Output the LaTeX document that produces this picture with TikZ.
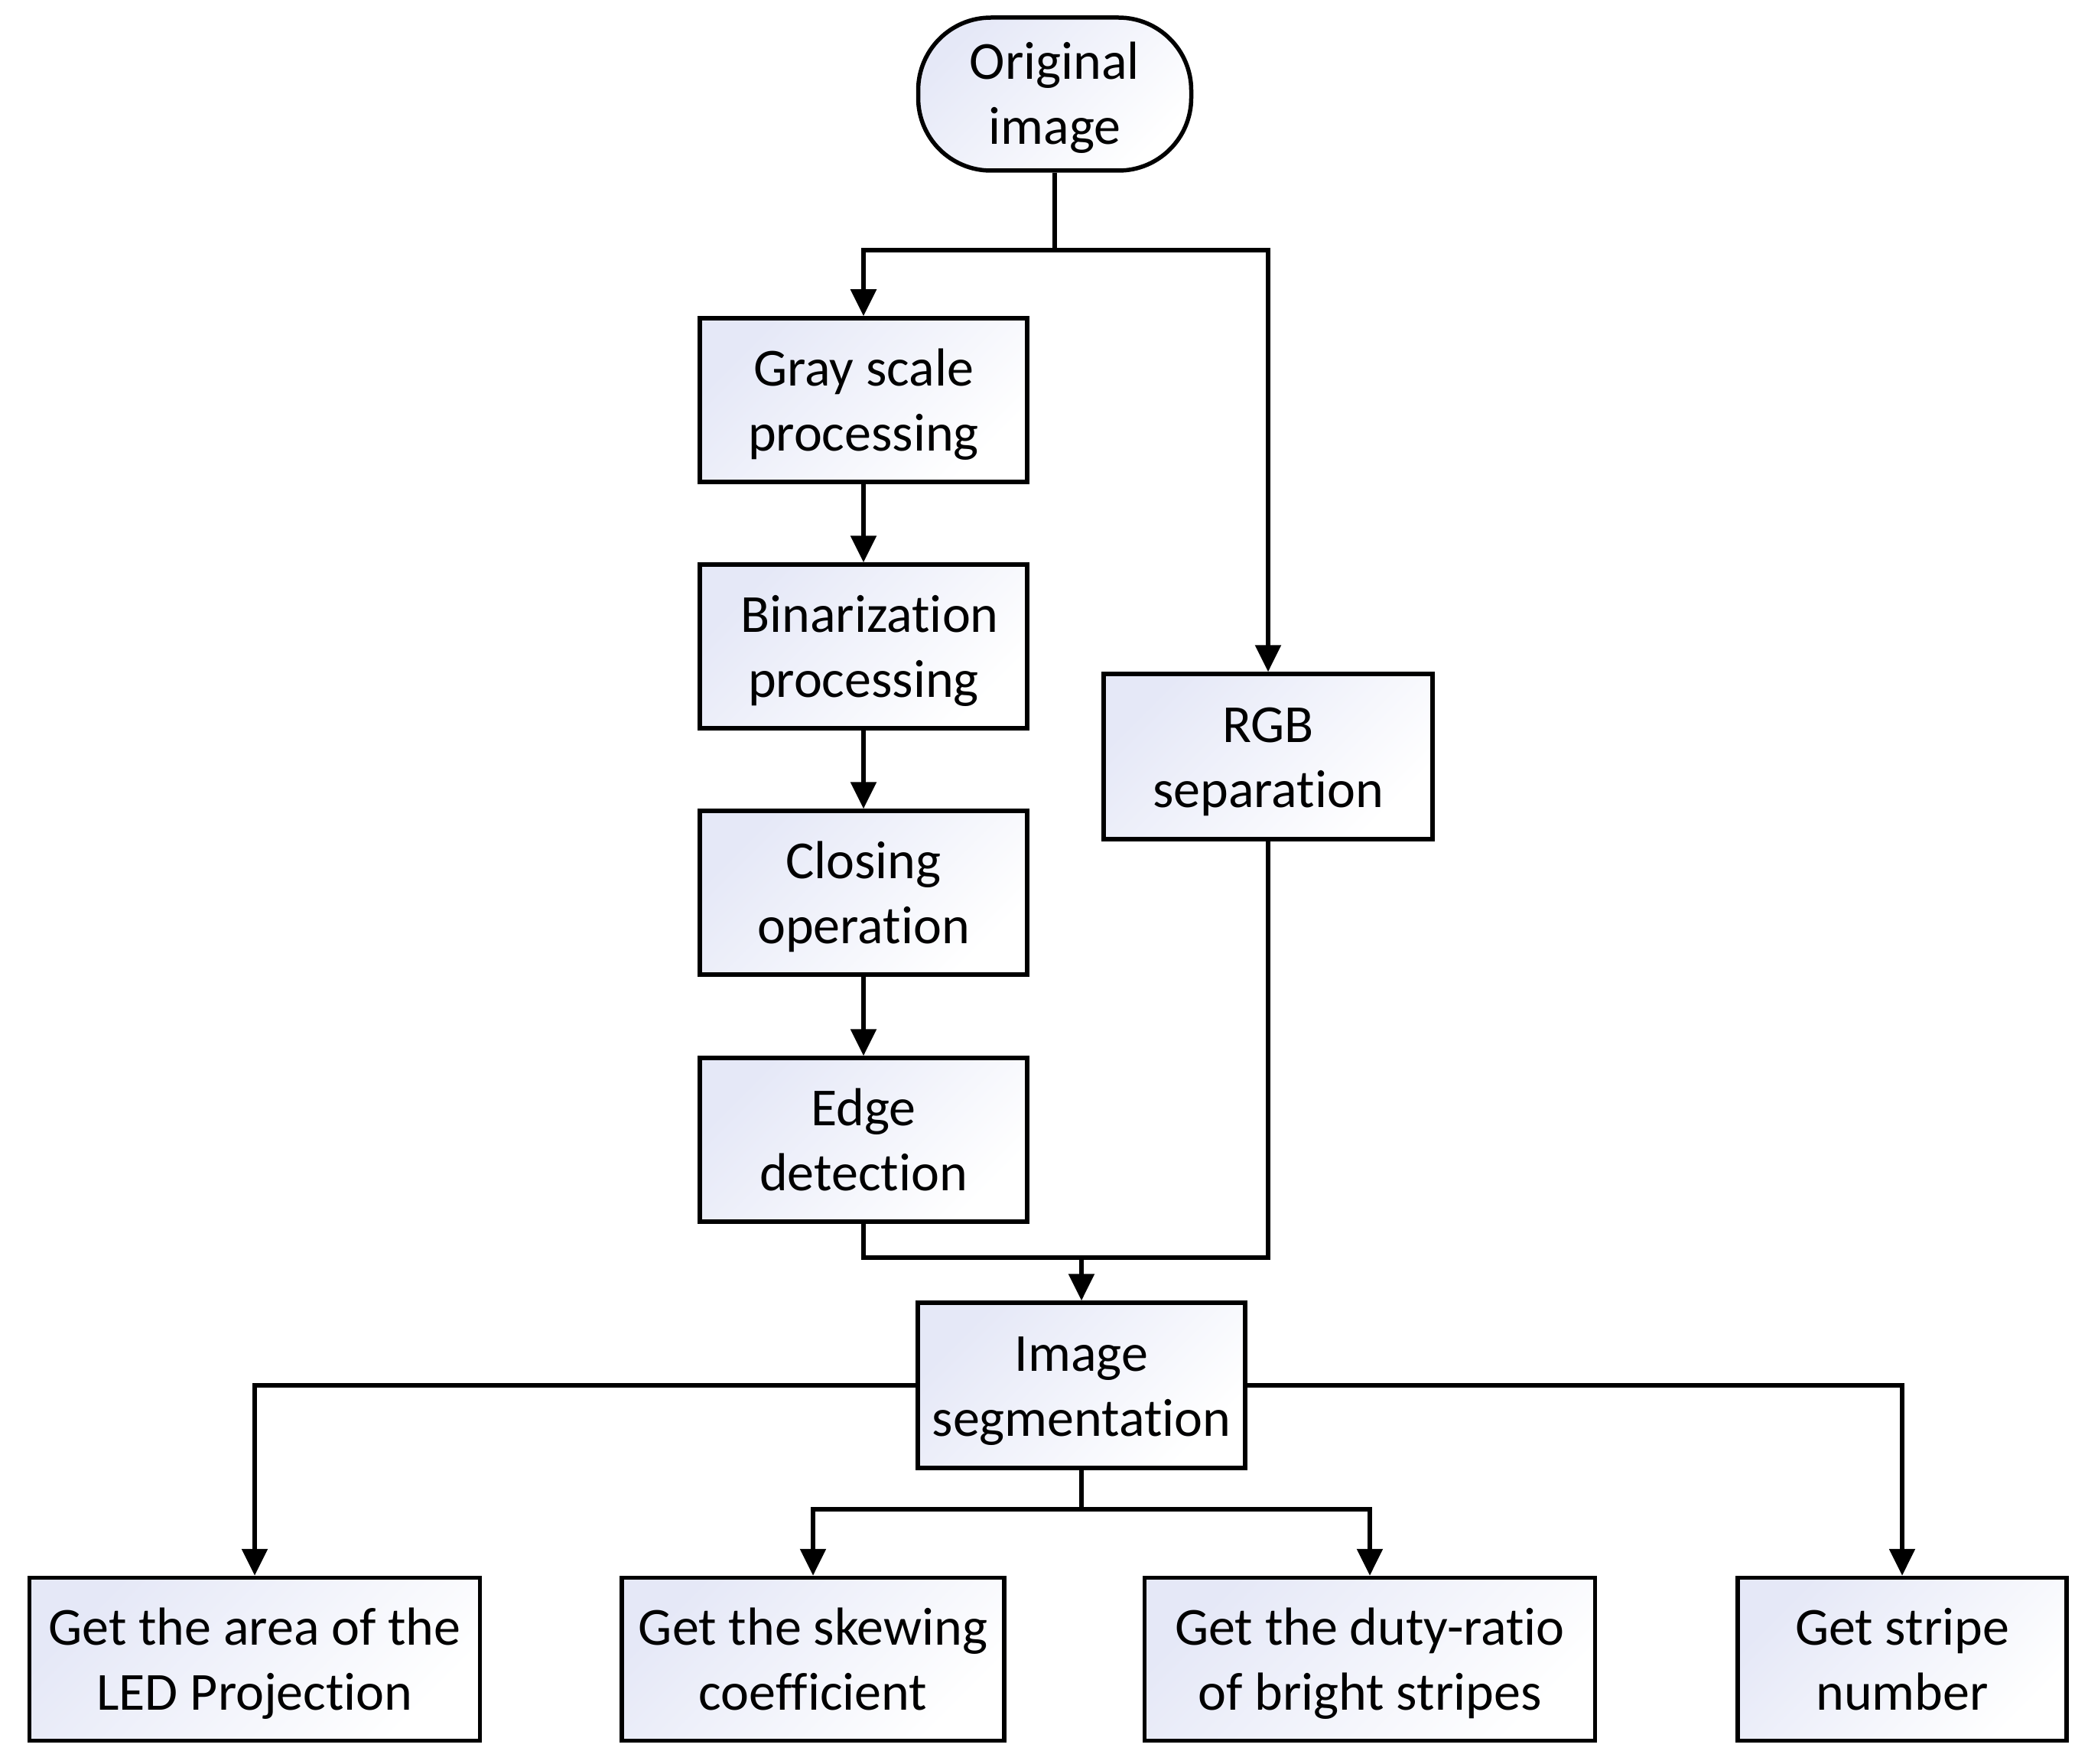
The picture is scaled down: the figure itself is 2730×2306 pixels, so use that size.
\documentclass[tikz,border=0pt]{standalone}
\usepackage{fontspec}
\setmainfont{Carlito}[Ligatures=NoCommon]
\usetikzlibrary{arrows.meta}
\definecolor{boxtint}{RGB}{229,232,247}
\newcommand{\topstrut}{\rule{0pt}{64pt}}
\newcommand{\botstrut}{\rule[-17pt]{0pt}{0pt}}
\tikzset{
  box/.style={draw=black, line width=5.5pt, align=center, inner sep=0pt,
    top color=boxtint, bottom color=white, shading angle=45,
    font=\fontsize{70}{85}\selectfont},
  conn/.style={line width=5.5pt, line join=miter},
  arr/.style={conn, -{Triangle[width=33pt,length=35pt]}}
}
\begin{document}
\begin{tikzpicture}[x=1pt,y=-1pt]
\useasboundingbox (0,0) rectangle (2730,2306);
\node[box, rounded corners=95pt, minimum width=357pt, minimum height=200pt] (orig) at (1379,123) {\topstrut Original\\image\botstrut};
\node[box, minimum width=428pt, minimum height=214pt] (gray) at (1129,523) {\topstrut Gray scale\\processing\botstrut};
\node[box, minimum width=428pt, minimum height=214pt] (bin) at (1129,845) {\topstrut\hspace*{16pt}Binarization\\processing\botstrut};
\node[box, minimum width=428pt, minimum height=214pt] (clos) at (1129,1167) {\topstrut Closing\\operation\botstrut};
\node[box, minimum width=428pt, minimum height=214pt] (edge) at (1129,1490) {\topstrut Edge\\detection\botstrut};
\node[box, minimum width=430pt, minimum height=216pt] (rgb) at (1658,989) {\topstrut RGB\\separation\botstrut};
\node[box, minimum width=428pt, minimum height=216pt] (seg) at (1414,1811) {\topstrut Image\\segmentation\botstrut};
\node[box, minimum width=589pt, minimum height=213pt] (b1) at (333,2169) {\topstrut Get the area of the\\LED Projection\botstrut};
\node[box, minimum width=500pt, minimum height=213pt] (b2) at (1063,2169) {\topstrut Get the skewing\\coefficient\botstrut};
\node[box, minimum width=589pt, minimum height=213pt] (b3) at (1791,2169) {\topstrut Get the duty-ratio\\of bright stripes\botstrut};
\node[box, minimum width=430pt, minimum height=213pt] (b4) at (2487,2169) {\topstrut Get stripe\\number\botstrut};
\coordinate (j1) at (1379,327);
\coordinate (m) at (1414,1644);
\coordinate (s) at (1414,1973);
\draw[conn] (orig.south) -- (j1);
\draw[arr] (j1) -| (gray.north);
\draw[arr] (j1) -| (rgb.north);
\draw[arr] (gray) -- (bin);
\draw[arr] (bin) -- (clos);
\draw[arr] (clos) -- (edge);
\draw[conn] (edge.south) |- (m);
\draw[conn] (rgb.south) |- (m);
\draw[arr] (m) -- (seg.north);
\draw[arr] (seg.west) -| (b1.north);
\draw[arr] (seg.east) -| (b4.north);
\draw[conn] (seg.south) -- (s);
\draw[arr] (s) -| (b2.north);
\draw[arr] (s) -| (b3.north);
\end{tikzpicture}
\end{document}
